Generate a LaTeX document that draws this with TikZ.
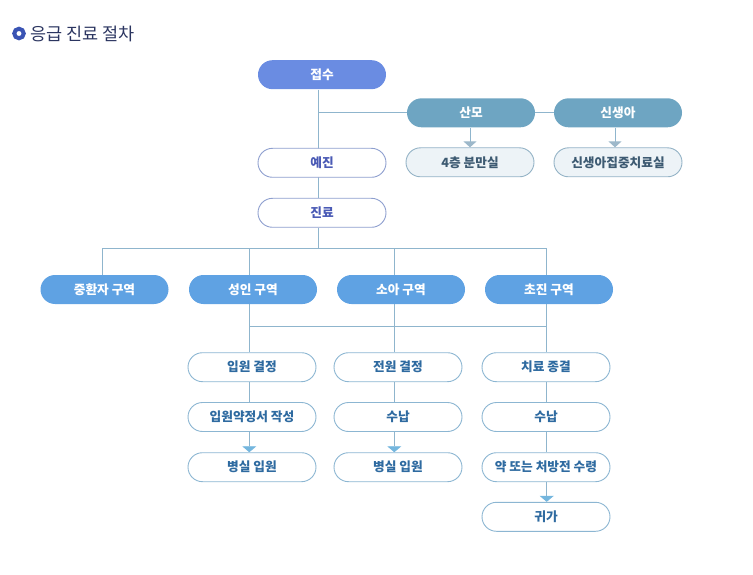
\documentclass[tikz,border=0pt]{standalone}
\usepackage{fontspec}
\newfontfamily\kr{Noto Sans CJK KR}
\usetikzlibrary{arrows.meta,backgrounds}
\definecolor{cJeop}{HTML}{6A8CE2}
\definecolor{cZone}{HTML}{5FA2E3}
\definecolor{cSteel}{HTML}{6EA5C2}
\definecolor{cLightFill}{HTML}{EDF3F7}
\definecolor{cLightBorder}{HTML}{94B3C6}
\definecolor{cLightText}{HTML}{3D5A72}
\definecolor{cTopBorder}{HTML}{8E9FCF}
\definecolor{cTopText}{HTML}{4A5AB5}
\definecolor{cLowBorder}{HTML}{8CB6D2}
\definecolor{cLowText}{HTML}{2E6AA0}
\definecolor{cLine}{HTML}{8FB5CD}
\definecolor{cArrTop}{HTML}{9DB8CA}
\definecolor{cArrLow}{HTML}{74B6DE}
\definecolor{cTitle}{HTML}{2B3560}
\definecolor{cIcon}{HTML}{3A54B4}
\tikzset{
  pill/.style={rounded corners=14.5pt, minimum width=128pt, minimum height=29pt,
    inner sep=0pt, font=\kr\bfseries\fontsize{12.7}{14}\selectfont, line width=0.9pt},
  solidpill/.style={pill, fill=#1, draw=none, text=white},
  topwhite/.style={pill, fill=white, draw=cTopBorder, text=cTopText},
  lowwhite/.style={pill, fill=white, draw=cLowBorder, text=cLowText},
  lightpill/.style={pill, fill=cLightFill, draw=cLightBorder, text=cLightText},
  conn/.style={draw=cLine, line width=0.9pt},
  arrtop/.style={conn, -{Triangle[width=13pt,length=6pt,color=cArrTop]}},
  arrlow/.style={conn, -{Triangle[width=14pt,length=6pt,color=cArrLow]}},
}
\begin{document}
\begin{tikzpicture}[x=1pt,y=-1pt]
\useasboundingbox (0,0) rectangle (753,575);
% title
\node[circle, draw=cIcon, line width=4pt, minimum size=9.5pt, inner sep=0pt, fill=white] (icon) at (19,33.5) {};
\node[anchor=west, inner sep=0pt, text=cTitle, font=\kr\fontsize{17.5}{19}\selectfont] (title) at (30,33.5) {응급 진료 절차};
% top nodes
\node[solidpill=cJeop] (jeop) at (322,74.7) {접수};
\node[topwhite] (yejin) at (322,162.8) {예진};
\node[topwhite] (jinryo) at (322,212.8) {진료};
\node[solidpill=cSteel] (sanmo) at (471,112.8) {산모};
\node[solidpill=cSteel] (sinsaeng) at (618,112.8) {신생아};
\node[lightpill] (bunman) at (470,162.3) {4층 분만실};
\node[lightpill] (nicu) at (618,162.3) {신생아집중치료실};
% zones
\node[solidpill=cZone] (zJ) at (104.5,289.5) {중환자 구역};
\node[solidpill=cZone] (zA) at (253,289.5) {성인 구역};
\node[solidpill=cZone] (zB) at (401,289.5) {소아 구역};
\node[solidpill=cZone] (zC) at (549,289.5) {초진 구역};
% lower columns
\node[lowwhite] (a1) at (252,367.2) {입원 결정};
\node[lowwhite] (a2) at (252,417) {입원약정서 작성};
\node[lowwhite] (a3) at (252,467.2) {병실 입원};
\node[lowwhite] (b1) at (398,367.2) {전원 결정};
\node[lowwhite] (b2) at (398,417) {수납};
\node[lowwhite] (b3) at (398,467.2) {병실 입원};
\node[lowwhite] (c1) at (546,367.2) {치료 종결};
\node[lowwhite] (c2) at (546,417) {수납};
\node[lowwhite] (c3) at (546,467.2) {약 또는 처방전 수령};
\node[lowwhite] (c4) at (546,516.8) {귀가};
% column coordinates
\coordinate (xm) at (318.3,0);
\coordinate (xJ) at (102.3,0);
\coordinate (xA) at (249.3,0);
\coordinate (xB) at (394.3,0);
\coordinate (xC) at (546.7,0);
\coordinate (yTop) at (0,248.3);
\coordinate (yMid) at (0,326);
\coordinate (xS) at (470,0);
\coordinate (xN) at (615,0);
\begin{scope}[on background layer]
  % main spine
  \draw[conn] (jeop.south -| xm) -- (jinryo.north -| xm);
  \draw[conn] (sanmo.west -| xm) -- (sanmo.west);
  \draw[conn] (sanmo.east) -- (sinsaeng.west);
  \draw[arrtop] (sanmo.south -| xS) -- (bunman.north -| xS);
  \draw[arrtop] (sinsaeng.south -| xN) -- (nicu.north -| xN);
  % distribution to zones
  \draw[conn] (jinryo.south -| xm) -- (yTop -| xm);
  \draw[conn] (yTop -| xJ) -- (yTop -| xC);
  \draw[conn] (yTop -| xJ) -- (zJ.north -| xJ);
  \draw[conn] (yTop -| xA) -- (zA.north -| xA);
  \draw[conn] (yTop -| xB) -- (zB.north -| xB);
  \draw[conn] (yTop -| xC) -- (zC.north -| xC);
  % from zones down
  \draw[conn] (zA.south -| xA) -- (a1.north -| xA);
  \draw[conn] (zB.south -| xB) -- (b1.north -| xB);
  \draw[conn] (zC.south -| xC) -- (c1.north -| xC);
  \draw[conn] (yMid -| xA) -- (yMid -| xC);
  % columns
  \draw[conn] (a1.south -| xA) -- (a2.north -| xA);
  \draw[arrlow] (a2.south -| xA) -- (a3.north -| xA);
  \draw[conn] (b1.south -| xB) -- (b2.north -| xB);
  \draw[arrlow] (b2.south -| xB) -- (b3.north -| xB);
  \draw[conn] (c1.south -| xC) -- (c2.north -| xC);
  \draw[conn] (c2.south -| xC) -- (c3.north -| xC);
  \draw[arrlow] (c3.south -| xC) -- (c4.north -| xC);
\end{scope}
\end{tikzpicture}
\end{document}
